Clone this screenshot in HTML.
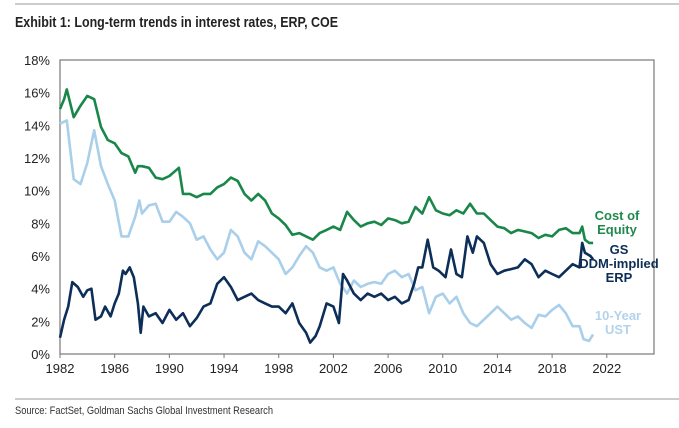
<!DOCTYPE html>
<html><head><meta charset="utf-8"><style>
body{margin:0;background:#fff;}
svg{display:block;font-family:"Liberation Sans",Arial,sans-serif;}
</style></head><body>
<svg id="chart" width="679" height="428" viewBox="0 0 679 428">
<line x1="15" y1="4" x2="679" y2="4" stroke="#999" stroke-width="1"/>
<text x="15" y="27" font-size="15" font-weight="bold" fill="#222" textLength="323" lengthAdjust="spacingAndGlyphs">Exhibit 1: Long-term trends in interest rates, ERP, COE</text>
<rect x="60" y="60" width="594" height="294" fill="none" stroke="#777" stroke-width="1.2"/>
<g id="yaxis"></g>
<g id="xaxis"></g>
<g id="series"></g>
<text x="617" y="220" font-size="13" font-weight="bold" fill="#1f8a4c" text-anchor="middle"><tspan x="617">Cost of</tspan><tspan x="617" dy="14">Equity</tspan></text>
<text x="619" y="254" font-size="13" font-weight="bold" fill="#0d2d55" text-anchor="middle"><tspan x="619">GS</tspan><tspan x="619" dy="14">DDM-implied</tspan><tspan x="619" dy="14">ERP</tspan></text>
<text x="618" y="320" font-size="13" font-weight="bold" fill="#b3d3ec" text-anchor="middle"><tspan x="618">10-Year</tspan><tspan x="618" dy="14">UST</tspan></text>
<line x1="15" y1="399" x2="679" y2="399" stroke="#999" stroke-width="1"/>
<text x="15" y="414" font-size="11" fill="#333" textLength="258" lengthAdjust="spacingAndGlyphs">Source: FactSet, Goldman Sachs Global Investment Research</text>
</svg>
<script>
const yTicks=[0,2,4,6,8,10,12,14,16,18];
const xTicks=[1982,1986,1990,1994,1998,2002,2006,2010,2014,2018,2022];
const coeYears=[1982,1982.3,1982.5,1983,1983.5,1984,1984.5,1985,1985.5,1986,1986.5,1987,1987.5,1987.7,1988,1988.5,1989,1989.5,1990,1990.7,1991,1991.5,1992,1992.5,1993,1993.5,1994,1994.5,1995,1995.5,1996,1996.5,1997,1997.5,1998,1998.5,1999,1999.5,2000,2000.5,2001,2001.5,2002,2002.5,2003,2003.5,2004,2004.5,2005,2005.5,2006,2006.5,2007,2007.5,2008,2008.5,2009,2009.5,2010,2010.5,2011,2011.5,2012,2012.5,2013,2013.5,2014,2014.5,2015,2015.5,2016,2016.5,2017,2017.5,2018,2018.5,2019,2019.5,2020,2020.2,2020.4,2020.7,2021];
const coeValues=[15.0,15.6,16.2,14.5,15.2,15.8,15.6,13.9,13.1,12.9,12.3,12.1,11.1,11.5,11.5,11.4,10.8,10.7,10.9,11.4,9.8,9.8,9.6,9.8,9.8,10.2,10.4,10.8,10.6,9.8,9.4,9.8,9.4,8.6,8.3,7.9,7.3,7.4,7.2,7.0,7.4,7.6,7.8,7.6,8.7,8.2,7.8,8.0,8.1,7.9,8.3,8.2,8.0,8.1,9.0,8.6,9.6,8.8,8.6,8.5,8.8,8.6,9.2,8.6,8.6,8.2,7.8,7.7,7.4,7.6,7.5,7.4,7.1,7.3,7.2,7.6,7.7,7.4,7.4,7.8,7.0,6.8,6.8];
const ustYears=[1982,1982.5,1983,1983.5,1984,1984.5,1985,1985.5,1986,1986.5,1987,1987.5,1987.8,1988,1988.5,1989,1989.5,1990,1990.5,1991,1991.5,1992,1992.5,1993,1993.5,1994,1994.5,1995,1995.5,1996,1996.5,1997,1997.5,1998,1998.5,1999,1999.5,2000,2000.5,2001,2001.5,2002,2002.5,2003,2003.5,2004,2004.5,2005,2005.5,2006,2006.5,2007,2007.5,2008,2008.5,2009,2009.5,2010,2010.5,2011,2011.5,2012,2012.5,2013,2013.5,2014,2014.5,2015,2015.5,2016,2016.5,2017,2017.5,2018,2018.5,2019,2019.5,2020,2020.3,2020.7,2021];
const ustValues=[14.1,14.3,10.7,10.4,11.7,13.7,11.5,10.4,9.4,7.2,7.2,8.4,9.4,8.6,9.1,9.2,8.1,8.1,8.7,8.4,8.0,7.0,7.2,6.4,5.8,6.2,7.6,7.2,6.2,5.8,6.9,6.6,6.2,5.8,4.9,5.3,6.0,6.6,6.2,5.3,5.1,5.3,4.3,3.7,4.5,4.1,4.3,4.4,4.3,4.9,5.1,4.7,4.9,3.9,4.1,2.5,3.5,3.7,3.1,3.5,2.5,1.9,1.7,2.1,2.5,2.9,2.5,2.1,2.3,1.9,1.6,2.4,2.3,2.7,3.0,2.5,1.7,1.7,0.9,0.8,1.2];
const erpYears=[1982,1982.3,1982.6,1982.9,1983.3,1983.7,1984,1984.3,1984.6,1985,1985.3,1985.7,1986,1986.3,1986.6,1986.8,1987.1,1987.4,1987.7,1987.9,1988.1,1988.5,1989,1989.5,1990,1990.5,1991,1991.5,1992,1992.5,1993,1993.5,1994,1994.5,1995,1995.5,1996,1996.5,1997,1997.5,1998,1998.5,1999,1999.5,2000,2000.3,2000.7,2001,2001.5,2002,2002.4,2002.7,2003,2003.5,2004,2004.5,2005,2005.5,2006,2006.5,2007,2007.5,2007.9,2008.2,2008.5,2008.9,2009.3,2009.7,2010.2,2010.6,2011,2011.4,2011.8,2012.2,2012.5,2013,2013.5,2014,2014.5,2015,2015.5,2016,2016.5,2017,2017.5,2018,2018.5,2019,2019.5,2020,2020.2,2020.4,2020.8,2021];
const erpValues=[1.0,2.1,2.9,4.4,4.1,3.5,3.9,4.0,2.1,2.3,2.9,2.3,3.1,3.7,5.1,4.9,5.3,4.7,3.1,1.3,2.9,2.3,2.5,1.9,2.7,2.1,2.5,1.7,2.2,2.9,3.1,4.3,4.7,4.1,3.3,3.5,3.7,3.3,3.1,2.9,2.9,2.5,3.1,1.9,1.3,0.7,1.1,1.7,3.1,2.9,1.9,4.9,4.5,3.7,3.3,3.7,3.5,3.7,3.3,3.5,3.1,3.3,4.3,5.3,5.3,7.0,5.3,5.1,4.7,6.4,4.9,4.7,7.2,6.2,7.2,6.8,5.5,4.9,5.1,5.2,5.3,5.8,5.5,4.7,5.1,4.9,4.7,5.1,5.5,5.3,6.8,6.2,6.0,5.8];

const NS="http://www.w3.org/2000/svg";
const X=y=>60+(y-1982)*13.67;
const Y=v=>354-v*16.333;
const yg=document.getElementById('yaxis'),xg=document.getElementById('xaxis'),sg=document.getElementById('series');
yTicks.forEach(t=>{
  const tx=document.createElementNS(NS,'text');
  
  
  tx.setAttribute('x',50);tx.setAttribute('y',Y(t)+5);tx.setAttribute('text-anchor','end');
  tx.setAttribute('font-size','13');tx.setAttribute('fill','#222');tx.textContent=t+'%';yg.appendChild(tx);
});
xTicks.forEach(t=>{
  const ln=document.createElementNS(NS,'line');
  
  
  ln.setAttribute('x1',X(t));ln.setAttribute('x2',X(t));ln.setAttribute('y1',354);ln.setAttribute('y2',358);
  ln.setAttribute('stroke','#777');xg.appendChild(ln);
  const tx=document.createElementNS(NS,'text');
  
  
  tx.setAttribute('x',X(t));tx.setAttribute('y',373);tx.setAttribute('text-anchor','middle');
  tx.setAttribute('font-size','13');tx.setAttribute('fill','#222');tx.textContent=t;xg.appendChild(tx);
});
function line(xs,vs,color,name){
  const p=document.createElementNS(NS,'polyline');
  
  
  p.setAttribute('points',xs.map((x,i)=>X(x).toFixed(1)+','+Y(vs[i]).toFixed(1)).join(' '));
  p.setAttribute('fill','none');p.setAttribute('stroke',color);p.setAttribute('stroke-width','2.6');
  p.setAttribute('stroke-linejoin','round');sg.appendChild(p);
}
line(ustYears,ustValues,'#a9cfea','ust-line');
line(coeYears,coeValues,'#1a874a','coe-line');
line(erpYears,erpValues,'#0c2e58','erp-line');
</script>
</body></html>
